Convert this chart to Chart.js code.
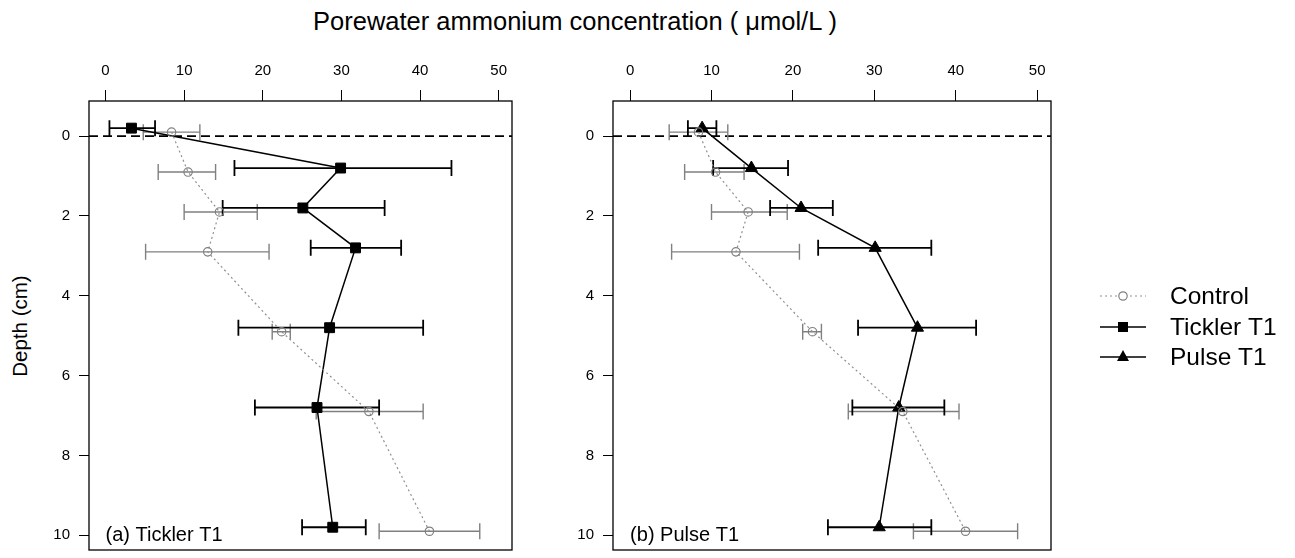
<!DOCTYPE html>
<html>
<head>
<meta charset="utf-8">
<script src="https://cdn.jsdelivr.net/npm/chart.js@4.4.1/dist/chart.umd.min.js"></script>
<style>
  html, body { margin: 0; padding: 0; background: #fff; }
  body { width: 1295px; height: 558px; position: relative; overflow: hidden;
         font-family: "Liberation Sans", Arial, sans-serif; color: #000; }
  #panelA { position: absolute; left: 0; top: 0; }
  #panelB { position: absolute; left: 540px; top: 0; }
  .title { position: absolute; left: 0; top: 7px; width: 1150px; text-align: center;
           font-size: 25.5px; white-space: nowrap; }
  .ytitle { position: absolute; left: 20px; top: 326px; font-size: 20.5px; white-space: nowrap;
            transform: translate(-50%, -50%) rotate(-90deg); }
</style>
</head>
<body>
<div class="title">Porewater ammonium concentration ( μmol/L )</div>
<div class="ytitle">Depth (cm)</div>
<canvas id="panelA" width="540" height="558"></canvas>
<canvas id="panelB" width="755" height="558"></canvas>
<script>
// depths (cm), slightly offset so the two series don't overlap
const depthControl = [-0.1, 0.9, 1.9, 2.9, 4.9, 6.9, 9.9];
const depthTreat = [-0.2, 0.8, 1.8, 2.8, 4.8, 6.8, 9.8];

// NH4+ concentrations (umol/L), mean with lower/upper error limits
const control = [8.4, 10.5, 14.5, 13.0, 22.4, 33.5, 41.2];
const controlLow = [4.8, 6.7, 10.0, 5.1, 21.2, 26.8, 34.8];
const controlHigh = [12.0, 14.0, 19.3, 20.8, 23.5, 40.4, 47.6];

const tickler = [3.3, 29.9, 25.1, 31.8, 28.5, 26.9, 28.9];
const ticklerLow = [0.5, 16.4, 14.9, 26.1, 16.9, 19.0, 25.0];
const ticklerHigh = [6.3, 44.0, 35.5, 37.6, 40.4, 34.8, 33.1];

const pulse = [8.85, 14.9, 21.0, 30.1, 35.3, 33.0, 30.6];
const pulseLow = [7.1, 10.2, 17.2, 23.1, 28.0, 27.3, 24.3];
const pulseHigh = [10.6, 19.4, 24.9, 37.0, 42.5, 38.6, 37.0];

const xTicks = [0, 10, 20, 30, 40, 50];
const yTicks = [0, 2, 4, 6, 8, 10];
const legendLabels = ["Control", "Tickler T1", "Pulse T1"];

const FONT = '"Liberation Sans", Arial, sans-serif';
const GREY = "#808080";

function points(xs, ys) {
  return xs.map((v, i) => ({ x: v, y: ys[i] }));
}

function controlSet() {
  return {
    label: legendLabels[0],
    data: points(control, depthControl),
    showLine: true,
    borderColor: "#909090",
    borderWidth: 1.2,
    borderDash: [2, 3],
    pointStyle: "circle",
    pointRadius: 4.2,
    pointBorderColor: GREY,
    pointBorderWidth: 1.2,
    pointBackgroundColor: "rgba(0,0,0,0)",
    errLow: controlLow,
    errHigh: controlHigh,
    errColor: GREY,
    errWidth: 1.4,
  };
}

function treatSet(label, vals, low, high, style, radius) {
  return {
    label: label,
    data: points(vals, depthTreat),
    showLine: true,
    borderColor: "#000",
    borderWidth: 1.5,
    pointStyle: style,
    pointRadius: radius,
    pointBorderColor: "#000",
    pointBorderWidth: 1,
    pointBackgroundColor: "#000",
    errLow: low,
    errHigh: high,
    errColor: "#000",
    errWidth: 1.8,
  };
}

// frame, zero line, error bars, panel tag and legend
const panelDecor = {
  id: "panelDecor",
  beforeDatasetsDraw(chart) {
    const { ctx, chartArea: a } = chart;
    const x = chart.scales.x, y = chart.scales.y;

    ctx.save();
    ctx.strokeStyle = "#000";
    ctx.lineWidth = 1.6;
    ctx.setLineDash([9, 5]);
    const y0 = y.getPixelForValue(0);
    ctx.beginPath();
    ctx.moveTo(a.left, y0);
    ctx.lineTo(a.right, y0);
    ctx.stroke();
    ctx.restore();

    chart.data.datasets.forEach((ds) => {
      ctx.save();
      ctx.strokeStyle = ds.errColor;
      ctx.lineWidth = ds.errWidth;
      ds.data.forEach((p, i) => {
        const py = y.getPixelForValue(p.y);
        const x1 = x.getPixelForValue(ds.errLow[i]);
        const x2 = x.getPixelForValue(ds.errHigh[i]);
        ctx.beginPath();
        ctx.moveTo(x1, py); ctx.lineTo(x2, py);
        ctx.moveTo(x1, py - 8); ctx.lineTo(x1, py + 8);
        ctx.moveTo(x2, py - 8); ctx.lineTo(x2, py + 8);
        ctx.stroke();
      });
      ctx.restore();
    });
  },
  afterDraw(chart, args, opts) {
    const { ctx, chartArea: a } = chart;
    const x = chart.scales.x, y = chart.scales.y;

    ctx.save();
    ctx.strokeStyle = "#000";
    ctx.lineWidth = 1.3;
    ctx.strokeRect(a.left, a.top, a.right - a.left, a.bottom - a.top);

    ctx.fillStyle = "#000";
    ctx.font = "20px " + FONT;
    ctx.textAlign = "left";
    ctx.textBaseline = "middle";
    ctx.fillText(opts.tag, x.getPixelForValue(0), y.getPixelForValue(10));

    if (opts.legendLeft !== undefined) {
      const lx = opts.legendLeft;
      const rows = [296, 327, 357];
      ctx.font = "24.5px " + FONT;
      legendLabels.forEach((txt, i) => {
        const ry = rows[i];
        ctx.save();
        if (i === 0) {
          ctx.strokeStyle = "#909090";
          ctx.lineWidth = 1.2;
          ctx.setLineDash([2, 3]);
        } else {
          ctx.strokeStyle = "#000";
          ctx.lineWidth = 1.5;
        }
        ctx.beginPath();
        ctx.moveTo(lx, ry);
        ctx.lineTo(lx + 46, ry);
        ctx.stroke();
        ctx.setLineDash([]);
        const cx = lx + 23;
        if (i === 0) {
          ctx.strokeStyle = GREY;
          ctx.fillStyle = "#fff";
          ctx.beginPath();
          ctx.arc(cx, ry, 4.2, 0, Math.PI * 2);
          ctx.fill();
          ctx.stroke();
        } else if (i === 1) {
          ctx.fillStyle = "#000";
          ctx.fillRect(cx - 5, ry - 5, 10, 10);
        } else {
          ctx.fillStyle = "#000";
          ctx.beginPath();
          ctx.moveTo(cx, ry - 7);
          ctx.lineTo(cx + 6, ry + 4);
          ctx.lineTo(cx - 6, ry + 4);
          ctx.closePath();
          ctx.fill();
        }
        ctx.restore();
        ctx.fillStyle = "#000";
        ctx.textAlign = "left";
        ctx.textBaseline = "middle";
        ctx.fillText(txt, lx + 70, ry + 1);
      });
    }
    ctx.restore();
  },
};

function makePanel(canvasId, datasets, yAxisWidth, padRight, tag, legendLeft) {
  const tickFont = { family: FONT, size: 15 };
  return new Chart(document.getElementById(canvasId), {
    type: "scatter",
    data: { datasets: datasets },
    options: {
      responsive: false,
      animation: false,
      events: [],
      layout: { padding: { left: 0, top: 0, right: padRight, bottom: 6 } },
      plugins: {
        legend: { display: false },
        tooltip: { enabled: false },
        panelDecor: { tag: tag, legendLeft: legendLeft },
      },
      scales: {
        x: {
          type: "linear",
          position: "top",
          min: -2.1,
          max: 51.7,
          afterBuildTicks: (s) => { s.ticks = xTicks.map((v) => ({ value: v })); },
          afterFit: (s) => { s.height = 101; s.paddingLeft = 0; s.paddingRight = 0; },
          border: { display: false },
          grid: { drawOnChartArea: false, drawTicks: true, tickLength: 11, color: "#000", lineWidth: 1 },
          ticks: { color: "#000", font: tickFont, padding: 10, maxRotation: 0, autoSkip: false },
        },
        y: {
          type: "linear",
          reverse: true,
          min: -0.88,
          max: 10.37,
          afterBuildTicks: (s) => { s.ticks = yTicks.map((v) => ({ value: v })); },
          afterFit: (s) => { s.width = yAxisWidth; s.paddingTop = 0; s.paddingBottom = 0; },
          border: { display: false },
          grid: { drawOnChartArea: false, drawTicks: true, tickLength: 10, color: "#000", lineWidth: 1 },
          ticks: { color: "#000", font: tickFont, padding: 9, autoSkip: false },
        },
      },
    },
    plugins: [panelDecor],
  });
}

makePanel("panelA",
  [controlSet(), treatSet(legendLabels[1], tickler, ticklerLow, ticklerHigh, "rect", 7)],
  89, 28, "(a) Tickler T1");

makePanel("panelB",
  [controlSet(), treatSet(legendLabels[2], pulse, pulseLow, pulseHigh, "triangle", 7)],
  73, 244, "(b) Pulse T1", 560);
</script>
</body>
</html>
